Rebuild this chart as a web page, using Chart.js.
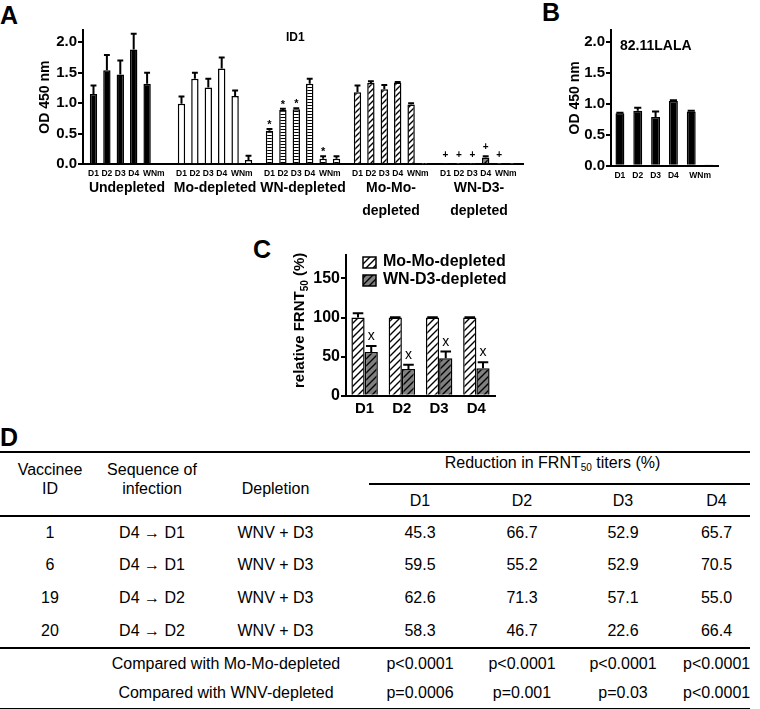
<!DOCTYPE html>
<html>
<head>
<meta charset="utf-8">
<script src="https://cdn.jsdelivr.net/npm/chart.js@4.4.0/dist/chart.umd.min.js"></script>
<style>
  body { margin: 0; background: #fff; font-family: "Liberation Sans", Arial, sans-serif; color: #000; }
  #page { position: relative; width: 760px; height: 709px; overflow: hidden; }
  canvas { position: absolute; }
  .letter { position: absolute; font-weight: bold; font-size: 25px; line-height: 25px; }
  .note { position: absolute; font-weight: bold; white-space: nowrap; }
  #tableD { position: absolute; left: 0; top: 451px; width: 750px; table-layout: fixed;
            border-collapse: separate; border-spacing: 0; font-size: 16px; line-height: 19px; }
  #tableD td, #tableD th { padding: 0; text-align: center; font-weight: normal; box-sizing: border-box; white-space: nowrap; }
  #tableD sub { font-size: 10px; line-height: 0; vertical-align: -3px; }
  .rule-top { border-top: 2px solid #000; }
  .rule-bottom { border-bottom: 2px solid #000; }
</style>
</head>
<body>
<div id="page">
  <div class="letter" style="left:0;top:3px">A</div>
  <div class="letter" style="left:542px;top:0">B</div>
  <div class="letter" style="left:253px;top:237px">C</div>
  <div class="letter" style="left:0;top:425px">D</div>
  <canvas id="chartA" width="530" height="225" style="left:0;top:0"></canvas>
  <canvas id="chartB" width="230" height="225" style="left:530px;top:0"></canvas>
  <canvas id="chartC" width="320" height="195" style="left:220px;top:225px"></canvas>
  <div class="note" style="left:286px;top:31px;font-size:12px;line-height:12px">ID1</div>
  <div class="note" style="left:620px;top:38px;font-size:14px;line-height:14px">82.11LALA</div>
  <table id="tableD"></table>
</div>

<script>
// ---- Panel A: OD 450 nm, bars D1, D2, D3, D4, WN, m in each group
const groupsA = ['Undepleted', 'Mo-depleted', 'WN-depleted', ['Mo-Mo-', 'depleted'], ['WN-D3-', 'depleted']];
const barLabelsA = ['D1', 'D2', 'D3', 'D4', 'WN', 'm'];
const undepleted      = [1.15, 1.54, 1.47, 1.88, 1.32, 0.01];
const undepletedErr   = [0.14, 0.25, 0.23, 0.26, 0.18, 0];
const moDepleted      = [0.99, 1.40, 1.26, 1.57, 1.12, 0.07];
const moDepletedErr   = [0.12, 0.10, 0.14, 0.18, 0.09, 0.07];
const wnDepleted      = [0.55, 0.89, 0.90, 1.32, 0.09, 0.09];
const wnDepletedErr   = [0.03, 0.02, 0.02, 0.08, 0.04, 0.04];
const moMoDepleted    = [1.18, 1.33, 1.23, 1.34, 0.98, 0.005];
const moMoDepletedErr = [0.11, 0.03, 0.07, 0.01, 0.02, 0];
const wnD3Depleted    = [0.01, 0.005, 0.005, 0.11, 0.005, 0.005];
const wnD3DepletedErr = [0, 0, 0, 0.02, 0, 0];
const marksWN   = ['*', '*', '*', '', '*', ''];
const marksWND3 = ['+', '+', '+', '+', '+', ''];

// ---- Panel B: 82.11LALA
const labelsB = ['D1', 'D2', 'D3', 'D4', 'WN', 'm'];
const valuesB = [0.85, 0.89, 0.79, 1.05, 0.88, 0.01];
const errorsB = [0.01, 0.05, 0.09, 0.01, 0.01, 0];

// ---- Panel C: relative FRNT50 (%)
const labelsC = ['D1', 'D2', 'D3', 'D4'];
const moMoC = [100, 100, 100, 100];
const moMoErrC = [5.5, 0.5, 0.5, 0.5];
const wnD3C = [56, 34, 48, 35];
const wnD3ErrC = [7.6, 5.5, 8.5, 7.7];
const marksC = ['x', 'x', 'x', 'x'];

// ---- Panel D: table
const vaccineeIds = ['1', '6', '19', '20'];
const sequences = ['D4 \u2192 D1', 'D4 \u2192 D1', 'D4 \u2192 D2', 'D4 \u2192 D2'];
const depletions = ['WNV + D3', 'WNV + D3', 'WNV + D3', 'WNV + D3'];
const serotypes = ['D1', 'D2', 'D3', 'D4'];
const reductions = [
  ['45.3', '66.7', '52.9', '65.7'],
  ['59.5', '55.2', '52.9', '70.5'],
  ['62.6', '71.3', '57.1', '55.0'],
  ['58.3', '46.7', '22.6', '66.4']
];
const pMoMo = ['p<0.0001', 'p<0.0001', 'p<0.0001', 'p<0.0001'];
const pWNV = ['p=0.0006', 'p=0.001', 'p=0.03', 'p<0.0001'];

const FONT = '"Liberation Sans", Arial, sans-serif';
Chart.defaults.font.family = FONT;
Chart.defaults.color = '#000';

function makePattern(ctx, bg, kind, size) {
  const c = document.createElement('canvas');
  c.width = size; c.height = size;
  const g = c.getContext('2d');
  g.fillStyle = bg;
  g.fillRect(0, 0, size, size);
  g.strokeStyle = '#000';
  g.beginPath();
  if (kind === 'h') {
    g.lineWidth = 1;
    g.moveTo(0, 0.5); g.lineTo(size, 0.5);
  } else {
    g.lineWidth = 1.4;
    g.moveTo(-1, size + 1); g.lineTo(size + 1, -1);
    g.moveTo(-2, 2); g.lineTo(2, -2);
    g.moveTo(size - 2, size + 2); g.lineTo(size + 2, size - 2);
  }
  g.stroke();
  return ctx.createPattern(c, 'repeat');
}

// error bars (upper half only) + significance marks
const errorBars = {
  id: 'errorBars',
  afterDatasetsDraw(chart) {
    const ctx = chart.ctx;
    const y = chart.scales.y;
    chart.data.datasets.forEach((ds, i) => {
      const meta = chart.getDatasetMeta(i);
      meta.data.forEach((bar, j) => {
        const e = ds.errors ? ds.errors[j] : 0;
        const top = y.getPixelForValue(ds.data[j] + (e || 0));
        ctx.save();
        if (e) {
          const half = bar.width * 0.4;
          ctx.strokeStyle = '#000';
          ctx.lineWidth = 2;
          ctx.beginPath();
          ctx.moveTo(bar.x, bar.y);
          ctx.lineTo(bar.x, top);
          ctx.moveTo(bar.x - half, top);
          ctx.lineTo(bar.x + half, top);
          ctx.stroke();
        }
        const mark = ds.marks ? ds.marks[j] : '';
        if (mark) {
          ctx.fillStyle = '#000';
          ctx.textAlign = 'center';
          ctx.textBaseline = 'alphabetic';
          if (mark === 'x') {
            ctx.font = '14px ' + FONT;
            ctx.fillText(mark, bar.x, top - 6);
          } else if (mark === '*') {
            ctx.font = 'bold 11px ' + FONT;
            ctx.fillText(mark, bar.x, top - 1);
          } else {
            ctx.font = 'bold 10px ' + FONT;
            ctx.fillText(mark, bar.x, top - 6);
          }
        }
        ctx.restore();
      });
    });
  }
};

// small labels under every bar; "WN" + "m" are set as one word between their two bars
const barLabels = {
  id: 'barLabels',
  afterDraw(chart, args, opts) {
    const ctx = chart.ctx;
    const groups = [];
    if (opts.perDataset) {
      chart.data.labels.forEach((_, j) => {
        groups.push(chart.data.datasets.map((ds, i) => ({ text: ds.label, x: chart.getDatasetMeta(i).data[j].x })));
      });
    } else {
      const meta = chart.getDatasetMeta(0);
      groups.push(chart.data.labels.map((l, j) => ({ text: l, x: meta.data[j].x })));
    }
    ctx.save();
    ctx.font = 'bold ' + opts.size + 'px ' + FONT;
    ctx.fillStyle = '#000';
    ctx.textBaseline = 'middle';
    const y = chart.chartArea.bottom + opts.offset;
    groups.forEach(items => {
      for (let k = 0; k < items.length; k++) {
        const it = items[k], nx = items[k + 1];
        if (it.text === 'WN' && nx && nx.text === 'm') {
          const w1 = ctx.measureText(it.text).width, w2 = ctx.measureText(nx.text).width;
          const left = (it.x + nx.x) / 2 - (w1 + w2) / 2;
          ctx.textAlign = 'left';
          ctx.fillText(it.text, left, y);
          ctx.fillText(nx.text, left + w1, y);
          k++;
        } else {
          ctx.textAlign = 'center';
          ctx.fillText(it.text, it.x, y);
        }
      }
    });
    ctx.restore();
  }
};

function fixedSize(w, h) {
  return scale => {
    if (w !== undefined) scale.width = w;
    if (h !== undefined) scale.height = h;
  };
}

function yAxis(max, step, fontSize, width, title, fmt) {
  return {
    min: 0, max: max,
    afterFit: fixedSize(width),
    ticks: { stepSize: step, includeBounds: false, padding: 1,
             font: { size: fontSize, weight: 'bold' }, callback: fmt },
    grid: { display: true, drawOnChartArea: false, drawTicks: true, tickLength: 5, color: '#000', lineWidth: 2 },
    border: { display: true, color: '#000', width: 2 },
    title: title ? { display: true, text: title, font: { size: 14, weight: 'bold' }, padding: { top: 4, bottom: 0 } } : { display: false }
  };
}

// ---- Chart A
const ctxA = document.getElementById('chartA').getContext('2d');
const fillsA = ['#000', '#fff', makePattern(ctxA, '#fff', 'h', 3), makePattern(ctxA, '#fff', 'd', 6), makePattern(ctxA, '#888', 'd', 6)];
const valuesA = [undepleted, moDepleted, wnDepleted, moMoDepleted, wnD3Depleted];
const errorsA = [undepletedErr, moDepletedErr, wnDepletedErr, moMoDepletedErr, wnD3DepletedErr];
const marksA = [[], [], marksWN, [], marksWND3];

new Chart(ctxA, {
  type: 'bar',
  data: {
    labels: groupsA,
    datasets: barLabelsA.map((lab, i) => ({
      label: lab,
      data: valuesA.map(g => g[i]),
      errors: errorsA.map(g => g[i]),
      marks: marksA.map(m => m[i] || ''),
      backgroundColor: fillsA,
      borderColor: '#000',
      borderWidth: 1.5,
      categoryPercentage: 0.914,
      barPercentage: 0.55
    }))
  },
  options: {
    responsive: false, animation: false,
    layout: { padding: { left: 33, top: 30, right: 7, bottom: 0 } },
    plugins: { legend: { display: false }, tooltip: { enabled: false },
               barLabels: { perDataset: true, size: 8.5, offset: 9 } },
    scales: {
      x: {
        afterFit: fixedSize(undefined, 60.7),
        grid: { display: false, drawTicks: false },
        border: { display: true, color: '#000', width: 2 },
        ticks: { autoSkip: false, maxRotation: 0, minRotation: 0, padding: 13,
                 font: { size: 14, weight: 'bold', lineHeight: 1.6 } }
      },
      y: yAxis(2.2, 0.5, 15, 50, 'OD 450 nm', v => v.toFixed(1))
    }
  },
  plugins: [errorBars, barLabels]
});

// ---- Chart B
const ctxB = document.getElementById('chartB').getContext('2d');
new Chart(ctxB, {
  type: 'bar',
  data: {
    labels: labelsB,
    datasets: [{
      label: '82.11LALA',
      data: valuesB,
      errors: errorsB,
      backgroundColor: '#000',
      borderColor: '#000',
      borderWidth: 1.5,
      categoryPercentage: 1,
      barPercentage: 0.5
    }]
  },
  options: {
    responsive: false, animation: false,
    layout: { padding: { left: 33, top: 30, right: 42, bottom: 0 } },
    plugins: { legend: { display: false }, tooltip: { enabled: false },
               barLabels: { perDataset: false, size: 8.5, offset: 10 } },
    scales: {
      x: {
        afterFit: fixedSize(undefined, 59.3),
        grid: { display: false, drawTicks: false },
        border: { display: true, color: '#000', width: 2 },
        ticks: { display: false }
      },
      y: yAxis(2.2, 0.5, 15, 48, 'OD 450 nm', v => v.toFixed(1))
    }
  },
  plugins: [errorBars, barLabels]
});

// ---- Chart C
const ctxC = document.getElementById('chartC').getContext('2d');
const legendC = {
  id: 'legendC',
  afterDraw(chart) {
    const ctx = chart.ctx;
    const a = chart.chartArea;
    ctx.save();
    ctx.font = 'bold 16px ' + FONT;
    ctx.textBaseline = 'middle';
    chart.data.datasets.forEach((ds, i) => {
      const cy = a.top + 7 + i * 18;
      const bx = a.left + 17;
      ctx.fillStyle = ds.backgroundColor;
      ctx.fillRect(bx, cy - 5, 13, 11);
      ctx.strokeStyle = '#000';
      ctx.lineWidth = 1.5;
      ctx.strokeRect(bx, cy - 5, 13, 11);
      ctx.fillStyle = '#000';
      ctx.fillText(ds.label, bx + 20, cy);
    });
    // y axis title with subscript
    const parts = [['relative FRNT', 15, 0], ['50', 10, 5], [' (%)', 15, 0]];
    let total = 0;
    parts.forEach(p => { ctx.font = 'bold ' + p[1] + 'px ' + FONT; total += ctx.measureText(p[0]).width; });
    ctx.translate(80, (a.top + a.bottom) / 2 - 5);
    ctx.rotate(-Math.PI / 2);
    let x = -total / 2;
    ctx.textAlign = 'left';
    parts.forEach(p => {
      ctx.font = 'bold ' + p[1] + 'px ' + FONT;
      ctx.fillText(p[0], x, p[2]);
      x += ctx.measureText(p[0]).width;
    });
    ctx.restore();
  }
};

new Chart(ctxC, {
  type: 'bar',
  data: {
    labels: labelsC,
    datasets: [{
      label: 'Mo-Mo-depleted',
      data: moMoC,
      errors: moMoErrC,
      backgroundColor: makePattern(ctxC, '#fff', 'd', 7),
      borderColor: '#000',
      borderWidth: 1.5,
      categoryPercentage: 0.71,
      barPercentage: 1
    }, {
      label: 'WN-D3-depleted',
      data: wnD3C,
      errors: wnD3ErrC,
      marks: marksC,
      backgroundColor: makePattern(ctxC, '#808080', 'd', 7),
      borderColor: '#000',
      borderWidth: 1.5,
      categoryPercentage: 0.71,
      barPercentage: 1
    }]
  },
  options: {
    responsive: false, animation: false,
    layout: { padding: { left: 90, top: 30, right: 45, bottom: 0 } },
    plugins: { legend: { display: false }, tooltip: { enabled: false } },
    scales: {
      x: {
        afterFit: fixedSize(undefined, 24.3),
        grid: { display: false, drawTicks: false },
        border: { display: true, color: '#000', width: 2 },
        ticks: { autoSkip: false, maxRotation: 0, padding: 4, font: { size: 15, weight: 'bold' } }
      },
      y: yAxis(180, 50, 16, 36, null, v => v)
    }
  },
  plugins: [errorBars, legendC]
});

// ---- Table D
(function buildTable() {
  const t = document.getElementById('tableD');
  const colW = [100, 104, 165, 102, 102, 100, 77];
  let html = '<colgroup>' + colW.map(w => '<col style="width:' + w + 'px">').join('') + '</colgroup>';
  const hdrCell = 'class="rule-top rule-bottom" rowspan="2" style="vertical-align:bottom;padding-bottom:17px';
  html += '<tr style="height:34px">' +
    '<th ' + hdrCell + '">Vaccinee<br>ID</th>' +
    '<th ' + hdrCell + '">Sequence of<br>infection</th>' +
    '<th ' + hdrCell + ';padding-right:22px">Depletion</th>' +
    '<th class="rule-top rule-bottom" colspan="4" style="vertical-align:top;padding-right:14px">Reduction in FRNT<sub>50</sub> titers (%)</th></tr>';
  html += '<tr style="height:32px">' + serotypes.map((s, k) =>
    '<th class="rule-bottom" style="vertical-align:middle' + (k === 3 ? ';padding-left:10px' : '') + '">' + s + '</th>').join('') + '</tr>';
  const rowH = [31, 33, 33, 35];
  vaccineeIds.forEach((id, r) => {
    const last = r === vaccineeIds.length - 1 ? ' class="rule-bottom"' : '';
    html += '<tr style="height:' + rowH[r] + 'px">' +
      '<td' + last + '>' + id + '</td>' +
      '<td' + last + '>' + sequences[r] + '</td>' +
      '<td' + last + ' style="padding-right:22px">' + depletions[r] + '</td>' +
      reductions[r].map((v, k) => '<td' + last + (k === 3 ? ' style="padding-left:10px"' : '') + '>' + v + '</td>').join('') + '</tr>';
  });
  const cmp = [['Compared with Mo-Mo-depleted', pMoMo, 28, ''], ['Compared with WNV-depleted', pWNV, 33, ' class="rule-bottom"']];
  cmp.forEach(c => {
    html += '<tr style="height:' + c[2] + 'px">' +
      '<td' + c[3] + '></td>' +
      '<td' + c[3] + ' colspan="2" style="padding-right:17px">' + c[0] + '</td>' +
      c[1].map((v, k) => '<td' + c[3] + (k === 3 ? ' style="padding-left:10px"' : '') + '>' + v + '</td>').join('') + '</tr>';
  });
  t.innerHTML = html;
})();
</script>
</body>
</html>
